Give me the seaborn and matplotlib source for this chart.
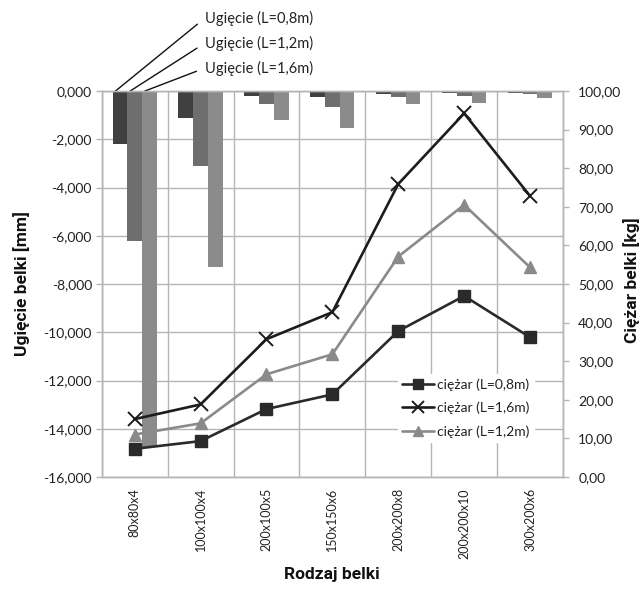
import numpy as np
import pandas as pd
import matplotlib
matplotlib.use("Agg")
import matplotlib.pyplot as plt
from matplotlib.ticker import FuncFormatter, MultipleLocator, FixedLocator
import seaborn as sns

# Beam sections
belki = ["80x80x4", "100x100x4", "200x100x5", "150x150x6",
         "200x200x8", "200x200x10", "300x200x6"]

# Deflection [mm] for each span
ugiecie_08 = [-2.20, -1.10, -0.21, -0.26, -0.12, -0.10, -0.07]
ugiecie_12 = [-6.20, -3.10, -0.54, -0.65, -0.26, -0.21, -0.12]
ugiecie_16 = [-14.75, -7.30, -1.20, -1.55, -0.54, -0.48, -0.29]

# Weight [kg] for each span
ciezar_08 = [7.3, 9.3, 17.6, 21.4, 37.8, 46.9, 36.2]
ciezar_16 = [15.0, 18.8, 35.7, 42.7, 75.9, 94.2, 72.8]
ciezar_12 = [11.0, 13.9, 26.6, 31.8, 57.1, 70.5, 54.3]

bar_labels = ["Ugięcie (L=0,8m)", "Ugięcie (L=1,2m)", "Ugięcie (L=1,6m)"]
line_labels = ["ciężar (L=0,8m)", "ciężar (L=1,6m)", "ciężar (L=1,2m)"]

sns.set_theme(style="white")
plt.rcParams["font.family"] = ["Lato", "DejaVu Sans"]

W, H = 644, 593
fig = plt.figure(figsize=(W / 100, H / 100), dpi=100)
fig.patch.set_facecolor("white")
x0, x1, y0, y1 = 101.7, 563.0, 91.0, 477.0
ax = fig.add_axes([x0 / W, 1 - y1 / H, (x1 - x0) / W, (y1 - y0) / H])

grid_c = "#b5b5b5"
txt_c = "#222222"
fs_y = 10
fs_x = 9
bar_colors = ["#404040", "#6e6e6e", "#8b8b8b"]

df_bars = pd.DataFrame({
    "belka": belki * 3,
    "ugiecie": ugiecie_08 + ugiecie_12 + ugiecie_16,
    "seria": [bar_labels[0]] * 7 + [bar_labels[1]] * 7 + [bar_labels[2]] * 7,
})
sns.barplot(data=df_bars, x="belka", y="ugiecie", hue="seria",
            hue_order=bar_labels, order=belki, palette=bar_colors,
            width=0.67, saturation=1, linewidth=0, errorbar=None,
            legend=False, ax=ax)

ax.set_xlim(-0.5, len(belki) - 0.5)
ax.set_ylim(-16, 0)
ax.yaxis.set_major_locator(MultipleLocator(2))
ax.yaxis.set_major_formatter(FuncFormatter(lambda v, p: f"{v:.3f}".replace(".", ",")))
ax.xaxis.set_minor_locator(FixedLocator(np.arange(-0.5, len(belki), 1.0)))
ax.grid(axis="y", which="major", color=grid_c, lw=1)
ax.grid(axis="x", which="minor", color=grid_c, lw=1)
ax.set_axisbelow(True)
for s in ax.spines.values():
    s.set_color(grid_c)
    s.set_linewidth(1)
ax.set_xlabel("")
ax.set_ylabel("")

# Weight lines on the secondary axis
ax2 = ax.twinx()
series = [
    (ciezar_08, line_labels[0], "#2a2a2a", "s", 8.5, 1.0),
    (ciezar_16, line_labels[1], "#1c1c1c", "x", 10, 1.4),
    (ciezar_12, line_labels[2], "#8a8a8a", "^", 9, 1.0),
]
for vals, lab, col, mk, ms, mew in series:
    sns.pointplot(x=belki, y=vals, order=belki, color=col, markers=mk,
                  linestyles="-", errorbar=None, ax=ax2, label=lab,
                  linewidth=1.9, markersize=ms, markeredgewidth=mew)

ax2.set_ylim(0, 100)
ax2.set_xlim(-0.5, len(belki) - 0.5)
ax2.yaxis.set_major_locator(MultipleLocator(10))
ax2.yaxis.set_major_formatter(FuncFormatter(lambda v, p: f"{v:.2f}".replace(".", ",")))
ax2.grid(False)
for s in ax2.spines.values():
    s.set_color(grid_c)
    s.set_linewidth(1)
ax2.set_ylabel("")
ax2.set_xlabel("")

ax.tick_params(axis="y", which="major", length=4, color=grid_c, width=1,
               labelsize=fs_y, pad=3, labelcolor=txt_c, left=True)
ax.tick_params(axis="x", which="both", length=0, labelsize=fs_x, pad=8,
               labelcolor=txt_c)
for t in ax.get_xticklabels():
    t.set_rotation(90)
ax2.tick_params(axis="y", length=4, color=grid_c, width=1, labelsize=fs_y,
                pad=7, labelcolor=txt_c, right=True)

leg = ax2.legend(loc="center", bbox_to_anchor=(466 / W, 1 - 408 / H),
                 bbox_transform=fig.transFigure, frameon=True, fancybox=False,
                 facecolor="white", edgecolor="white", framealpha=1,
                 fontsize=fs_y, handlelength=2.3, handletextpad=0.2,
                 labelspacing=0.8, borderpad=0.3, markerscale=0.85)
for t in leg.get_texts():
    t.set_color(txt_c)

# Data labels for the first group of bars, placed above the plot
label_y = [18, 43, 68]
for i, (cont, lab) in enumerate(zip(ax.containers, bar_labels)):
    p = cont.patches[0]
    top = max(p.get_y(), p.get_y() + p.get_height())
    ax.annotate(lab, xy=(p.get_x() + 0.2 * p.get_width(), top),
                xycoords="data",
                xytext=(205 / W, 1 - label_y[i] / H), textcoords="figure fraction",
                ha="left", va="center", fontsize=10.5, color=txt_c,
                annotation_clip=False,
                arrowprops=dict(arrowstyle="-", color="#111111", lw=1,
                                relpos=(0.0, 0.5), shrinkA=4, shrinkB=0))

title_kw = dict(family=["Roboto", "DejaVu Sans"], fontweight="bold",
                fontsize=12.5, color="#111111", ha="center", va="center")
fig.text(22 / W, 1 - 284 / H, "Ugięcie belki [mm]", rotation=90, **title_kw)
fig.text(632 / W, 1 - 280 / H, "Ciężar belki [kg]", rotation=90, **title_kw)
fig.text(332 / W, 1 - 575 / H, "Rodzaj belki", **title_kw)

fig.savefig("out.png", dpi=100, facecolor="white")
